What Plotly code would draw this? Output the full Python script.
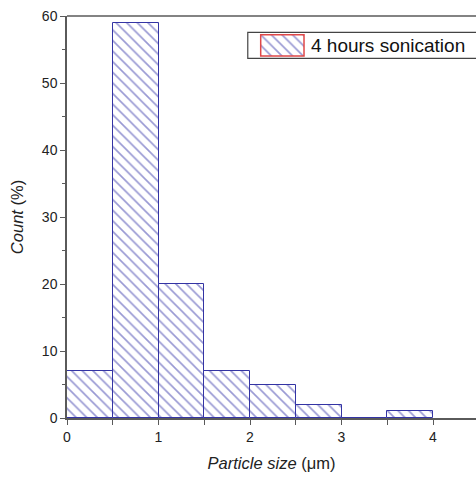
import plotly.graph_objects as go

bin_centers = [0.25, 0.75, 1.25, 1.75, 2.25, 2.75, 3.25, 3.75]
counts = [7, 59, 20, 7, 5, 2, 0, 1]
series_name = "4 hours sonication"
x_ticks = [0, 1, 2, 3, 4]
y_ticks = [0, 10, 20, 30, 40, 50, 60]

hatch = dict(shape="\\", fgcolor="#3434a8", bgcolor="white", size=7.5, solidity=0.22)
edge = "#3434a4"

fig = go.Figure()
fig.add_trace(go.Bar(
    x=bin_centers, y=counts, width=0.5, name=series_name,
    marker=dict(color="white", line=dict(color=edge, width=1), pattern=hatch),
    showlegend=False,
))
# legend swatch drawn on an overlay axis
fig.add_trace(go.Bar(
    x=[0], y=[1], width=1, xaxis="x2", yaxis="y2", showlegend=False, hoverinfo="skip",
    marker=dict(color="white", line=dict(width=0), pattern=hatch),
))

sw_x = [0.4736, 0.5795]
sw_y = [0.9005, 0.9535]

font = "Liberation Sans, Arial, sans-serif"
axcol = "#5a5a5a"
fig.update_layout(
    width=476, height=477,
    margin=dict(l=67, r=0, t=16, b=59),
    plot_bgcolor="white", paper_bgcolor="white",
    font=dict(family=font, size=14, color="#222"),
    bargap=0,
    showlegend=False,
    xaxis=dict(range=[0, 4.47], tickvals=x_ticks, ticks="outside", ticklen=5,
               showline=True, linecolor=axcol, linewidth=1.5,
               showgrid=False, zeroline=False, tickcolor=axcol,
               minor=dict(tickvals=[0.5, 1.5, 2.5, 3.5], ticks="outside", ticklen=5, tickcolor=axcol),
               title=dict(text="<i>Particle size</i> (μm)", font=dict(size=16.5), standoff=14)),
    yaxis=dict(range=[0, 60], tickvals=y_ticks, ticks="outside", ticklen=5,
               showline=True, linecolor=axcol, linewidth=1.5,
               showgrid=False, zeroline=False, tickcolor=axcol,
               minor=dict(tickvals=[5, 15, 25, 35, 45, 55], ticks="outside", ticklen=3, tickcolor=axcol),
               title=dict(text="<i>Count</i> (%)", font=dict(size=16.5), standoff=14)),
    xaxis2=dict(domain=sw_x, range=[-0.5, 0.5], anchor="y2",
                visible=False, fixedrange=True),
    yaxis2=dict(domain=sw_y, range=[0, 1], anchor="x2",
                visible=False, fixedrange=True),
)
# top border line
fig.add_shape(type="line", xref="paper", yref="paper", x0=0, x1=1, y0=1, y1=1,
              line=dict(color=axcol, width=1.5))
# legend box
fig.add_shape(type="rect", xref="paper", yref="paper", x0=0.442, x1=1.01, y0=0.8948, y1=0.9595,
              line=dict(color="#444", width=1.2), fillcolor="rgba(0,0,0,0)")
# swatch border
fig.add_shape(type="rect", xref="paper", yref="paper", x0=sw_x[0], x1=sw_x[1], y0=sw_y[0], y1=sw_y[1],
              line=dict(color="#e04848", width=1.5), fillcolor="rgba(0,0,0,0)")
fig.add_annotation(xref="paper", yref="paper", x=0.5917, y=0.927, xanchor="left", yanchor="middle",
                   text=series_name, showarrow=False, font=dict(size=19, color="#111"))
fig.write_html("out.html")
